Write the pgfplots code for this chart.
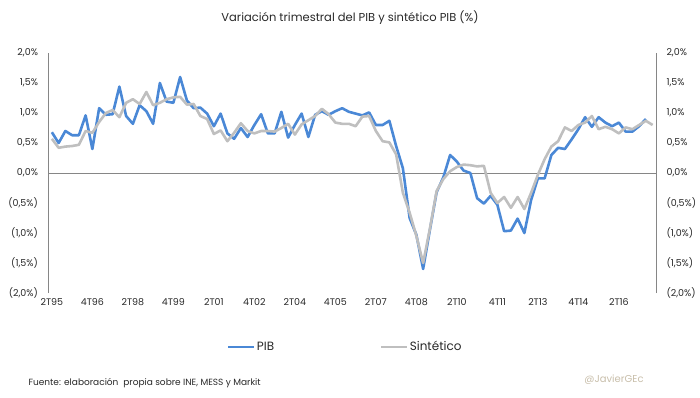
\documentclass[border=0pt]{standalone}
\usepackage{pgfplots}
\pgfplotsset{compat=1.18}
\usepackage{pgfplotstable}
\usepackage{fontspec}
\setmainfont{Poppins}
\definecolor{pibblue}{RGB}{74,136,214}
\definecolor{sintgray}{RGB}{191,191,191}
\definecolor{txt}{RGB}{40,40,40}
\definecolor{axgray}{RGB}{134,134,134}
\definecolor{handle}{RGB}{200,190,170}

\pgfplotstableread{
x y
0 0.68
1 0.50
2 0.70
3 0.63
4 0.63
5 0.96
6 0.40
7 1.08
8 0.97
9 0.98
10 1.44
11 0.95
12 0.82
13 1.13
14 1.03
15 0.82
16 1.50
17 1.19
18 1.17
19 1.60
20 1.21
21 1.08
22 1.09
23 0.99
24 0.78
25 0.99
26 0.66
27 0.57
28 0.75
29 0.60
30 0.80
31 0.98
32 0.66
33 0.66
34 1.02
35 0.59
36 0.80
37 0.99
38 0.60
39 0.97
40 1.03
41 0.97
42 1.03
43 1.08
44 1.02
45 0.99
46 0.96
47 1.01
48 0.80
49 0.80
50 0.87
51 0.45
52 0.08
53 -0.75
54 -1.03
55 -1.60
56 -0.95
57 -0.32
58 -0.07
59 0.30
60 0.19
61 0.04
62 0.00
63 -0.42
64 -0.51
65 -0.38
66 -0.53
67 -0.97
68 -0.96
69 -0.76
70 -1.00
71 -0.45
72 -0.09
73 -0.09
74 0.30
75 0.42
76 0.40
77 0.56
78 0.73
79 0.93
80 0.77
81 0.93
82 0.84
83 0.78
84 0.84
85 0.69
86 0.69
87 0.78
88 0.90
}\pibdata

\pgfplotstableread{
x y
0 0.57
1 0.42
2 0.44
3 0.45
4 0.47
5 0.70
6 0.67
7 0.85
8 1.00
9 1.05
10 0.93
11 1.17
12 1.23
13 1.15
14 1.35
15 1.13
16 1.17
17 1.23
18 1.26
19 1.27
20 1.14
21 1.15
22 0.95
23 0.90
24 0.65
25 0.71
26 0.53
27 0.67
28 0.83
29 0.70
30 0.66
31 0.70
32 0.70
33 0.69
34 0.75
35 0.82
36 0.64
37 0.81
38 0.88
39 0.95
40 1.07
41 0.98
42 0.84
43 0.82
44 0.82
45 0.78
46 0.94
47 0.95
48 0.70
49 0.53
50 0.51
51 0.31
52 -0.33
53 -0.66
54 -1.05
55 -1.50
56 -0.93
57 -0.30
58 -0.10
59 0.03
60 0.10
61 0.14
62 0.13
63 0.11
64 0.12
65 -0.33
66 -0.50
67 -0.40
68 -0.58
69 -0.40
70 -0.60
71 -0.33
72 -0.03
73 0.23
74 0.44
75 0.53
76 0.76
77 0.70
78 0.80
79 0.84
80 0.95
81 0.73
82 0.77
83 0.73
84 0.66
85 0.76
86 0.73
87 0.80
88 0.87
89 0.80
}\sintdata

\begin{document}
\begin{tikzpicture}
\path[use as bounding box] (0pt,0pt) rectangle (700pt,397pt);

\begin{axis}[
  scale only axis, width=607.5pt, height=240pt,
  at={(48.5pt,104pt)}, anchor=south west,
  xmin=-0.5, xmax=89.5, ymin=-2, ymax=2,
  separate axis lines,
  x axis line style={draw=none},
  y axis line style={draw=axgray, line width=0.8pt},
  tick style={draw=none},
  ytick={-2,-1.5,-1,-0.5,0,0.5,1,1.5,2},
  yticklabels={{(2,0\%)},{(1,5\%)},{(1,0\%)},{(0,5\%)},{0,0\%},{0,5\%},{1,0\%},{1,5\%},{2,0\%}},
  yticklabel pos=left,
  yticklabel style={xshift=-7pt, font=\fontsize{9.5}{10}\selectfont, text=txt},
  xtick={0,6,...,84},
  xticklabels={2T95,4T96,2T98,4T99,2T01,4T02,2T04,4T05,2T07,4T08,2T10,4T11,2T13,4T14,2T16},
  xticklabel style={font=\fontsize{9.5}{10}\selectfont, text=txt, yshift=-2pt},
  extra y ticks={0},
  extra y tick labels={},
  extra y tick style={grid=major, major grid style={draw=axgray, line width=0.8pt}},
  legend style={at={(0.488,-0.225)}, anchor=center, draw=none, fill=none,
    legend columns=2, font=\fontsize{12}{13}\selectfont, text=txt,
    nodes={inner xsep=1.5pt},
    /tikz/every even column/.append style={column sep=104pt}},
  legend image code/.code={\draw[#1, line width=2.6pt] (0pt,0pt) -- (26pt,0pt);},
]
\addplot[pibblue, line width=2.6pt, line join=round] table[x=x,y=y] {\pibdata};
\addlegendentry{PIB}
\addplot[sintgray, line width=2.6pt, line join=round] table[x=x,y=y] {\sintdata};
\addlegendentry{Sintético}
\end{axis}

\begin{axis}[
  scale only axis, width=607.5pt, height=240pt,
  at={(48.5pt,104pt)}, anchor=south west,
  xmin=-0.5, xmax=89.5, ymin=-2, ymax=2,
  axis line style={draw=none}, tick style={draw=none},
  xtick=\empty,
  ytick={-2,-1.5,-1,-0.5,0,0.5,1,1.5,2},
  yticklabels={{(2,0\%)},{(1,5\%)},{(1,0\%)},{(0,5\%)},{0,0\%},{0,5\%},{1,0\%},{1,5\%},{2,0\%}},
  yticklabel pos=right,
  yticklabel style={xshift=7pt, font=\fontsize{9.5}{10}\selectfont, text=txt},
]
\addplot[draw=none] coordinates {(0,0)};
\end{axis}

\node[font=\fontsize{11.5}{12}\selectfont, text=txt] at (350pt,379pt) {Variación trimestral del PIB y sintético PIB (\%)};
\node[anchor=west, font=\fontsize{9}{10}\selectfont, text=txt] at (25pt,14pt) {Fuente: elaboración\ \ propia sobre INE, MESS y Markit};
\node[font=\fontsize{10}{11}\selectfont, text=handle] at (614pt,17pt) {@JavierGEc};
\end{tikzpicture}
\end{document}
